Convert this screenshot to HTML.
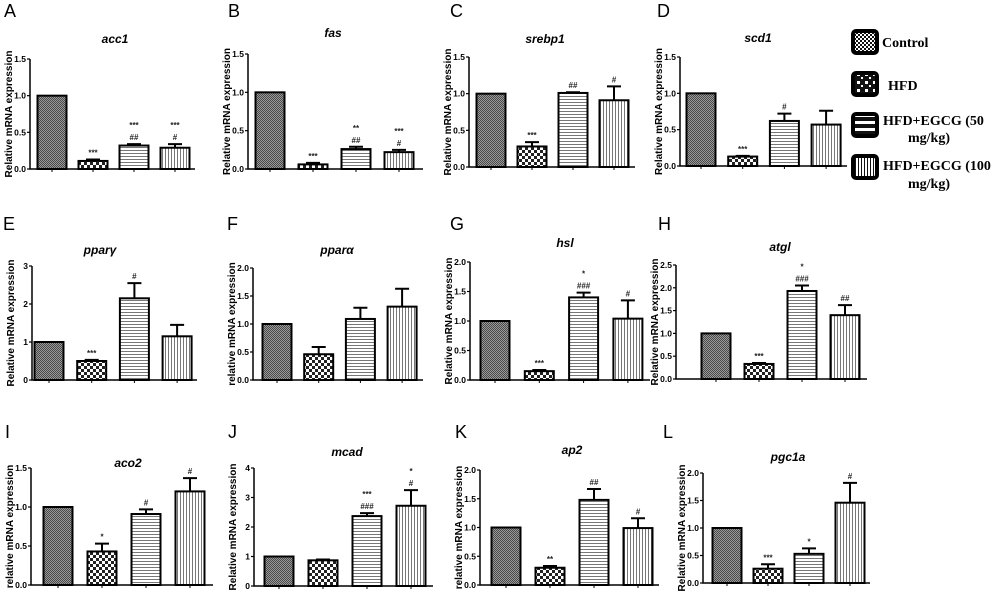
<!DOCTYPE html>
<html><head><meta charset="utf-8">
<style>
html,body{margin:0;padding:0;background:#fff;}
svg{display:block;}
text{font-family:"Liberation Sans",Arial,sans-serif;}
.leg{font-family:"Liberation Serif","Times New Roman",serif;font-weight:bold;font-size:14px;}
</style></head>
<body>
<svg id="fig" width="1000" height="595" viewBox="0 0 1000 595" xmlns="http://www.w3.org/2000/svg">
<defs>
<pattern id="pCtrl" width="2" height="2" patternUnits="userSpaceOnUse"><rect width="2" height="2" fill="#999"/><rect width="1" height="1" fill="#4a4a4a"/><rect x="1" y="1" width="1" height="1" fill="#4a4a4a"/></pattern>
<pattern id="pHfd" width="6" height="6" patternUnits="userSpaceOnUse"><rect width="6" height="6" fill="#fff"/><rect width="3" height="3" fill="#222"/><rect x="3" y="3" width="3" height="3" fill="#222"/></pattern>
<pattern id="pE50" width="3" height="3" patternUnits="userSpaceOnUse"><rect width="3" height="3" fill="#fff"/><rect width="3" height="1" fill="#777"/></pattern>
<pattern id="pE100" width="3" height="3" patternUnits="userSpaceOnUse"><rect width="3" height="3" fill="#fff"/><rect width="1" height="3" fill="#777"/></pattern>
<pattern id="lCtrl" width="4" height="4" patternUnits="userSpaceOnUse"><rect width="4" height="4" fill="#fff"/><rect width="2" height="2" fill="#111"/><rect x="2" y="2" width="2" height="2" fill="#111"/></pattern>
<pattern id="lHfd" width="8" height="8" patternUnits="userSpaceOnUse"><rect width="8" height="8" fill="#111"/><rect x="1" y="1" width="3" height="3" fill="#fff"/><rect x="5" y="5" width="2" height="2" fill="#fff"/></pattern>
<pattern id="lE50" width="6" height="7" patternUnits="userSpaceOnUse"><rect width="6" height="7" fill="#111"/><rect y="2" width="6" height="3" fill="#fff"/></pattern>
<pattern id="lE100" width="3" height="6" patternUnits="userSpaceOnUse"><rect width="3" height="6" fill="#fff"/><rect width="1" height="6" fill="#111"/></pattern>
</defs>
<g id="legend">
<g><rect x="853" y="31" width="24" height="22" rx="3" fill="url(#lCtrl)" stroke="#000" stroke-width="4"/><text class="leg" x="882" y="47">Control</text></g>
<g><rect x="853" y="73" width="24" height="22" rx="3" fill="url(#lHfd)" stroke="#000" stroke-width="4"/><text class="leg" x="888" y="90">HFD</text></g>
<g><rect x="853" y="114" width="24" height="22" rx="3" fill="url(#lE50)" stroke="#000" stroke-width="4"/><text class="leg" x="883" y="125">HFD+EGCG (50</text><text class="leg" x="908" y="142">mg/kg)</text></g>
<g><rect x="853" y="156" width="24" height="22" rx="3" fill="url(#lE100)" stroke="#000" stroke-width="4"/><text class="leg" x="883" y="170">HFD+EGCG (100</text><text class="leg" x="908" y="188">mg/kg)</text></g>
</g>
</svg>
<script>
const groups = ["Control","HFD","HFD+EGCG 50","HFD+EGCG 100"];
const accMeans = [1.0, 0.11, 0.32, 0.29];
const accErr = [0, 0.02, 0.02, 0.05];
const accMarks = [[], ["***"], ["##","***"], ["#","***"]];
const fasMeans = [1.0, 0.06, 0.26, 0.22];
const fasErr = [0, 0.02, 0.03, 0.03];
const fasMarks = [[], ["***"], ["##","**"], ["#","***"]];
const srebpMeans = [1.0, 0.28, 1.01, 0.91];
const srebpErr = [0, 0.06, 0.01, 0.19];
const srebpMarks = [[], ["***"], ["##"], ["#"]];
const scdMeans = [1.0, 0.13, 0.62, 0.57];
const scdErr = [0, 0.01, 0.10, 0.19];
const scdMarks = [[], ["***"], ["#"], []];
const ppargMeans = [1.0, 0.5, 2.15, 1.15];
const ppargErr = [0, 0.03, 0.4, 0.3];
const ppargMarks = [[], ["***"], ["#"], []];
const ppaaMeans = [1.0, 0.46, 1.09, 1.31];
const ppaaErr = [0, 0.13, 0.2, 0.32];
const ppaaMarks = [[], [], [], []];
const hslMeans = [1.0, 0.15, 1.40, 1.04];
const hslErr = [0, 0.02, 0.08, 0.31];
const hslMarks = [[], ["***"], ["###","*"], ["#"]];
const atglMeans = [1.0, 0.33, 1.93, 1.40];
const atglErr = [0, 0.02, 0.12, 0.22];
const atglMarks = [[], ["***"], ["###","*"], ["##"]];
const acoMeans = [1.0, 0.43, 0.91, 1.20];
const acoErr = [0, 0.10, 0.06, 0.17];
const acoMarks = [[], ["*"], ["#"], ["#"]];
const mcadMeans = [1.0, 0.87, 2.37, 2.72];
const mcadErr = [0, 0.03, 0.1, 0.53];
const mcadMarks = [[], [], ["###","***"], ["#","*"]];
const ap2Means = [1.0, 0.30, 1.48, 0.99];
const ap2Err = [0, 0.03, 0.19, 0.17];
const ap2Marks = [[], ["**"], ["##"], ["#"]];
const pgcMeans = [1.0, 0.26, 0.53, 1.46];
const pgcErr = [0, 0.08, 0.10, 0.36];
const pgcMarks = [[], ["***"], ["*"], ["#"]];
const ticks15 = ["0.0","0.5","1.0","1.5"];
const ticks20 = ["0.0","0.5","1.0","1.5","2.0"];
const ticks25 = ["0.0","0.5","1.0","1.5","2.0","2.5"];
const ticks3 = ["0","1","2","3"];
const ticks4 = ["0","1","2","3","4"];

const fills = ["url(#pCtrl)","url(#pHfd)","url(#pE50)","url(#pE100)"];
const NS = "http://www.w3.org/2000/svg";
const svg = document.getElementById("fig");
function mk(tag, attrs, parent){const e=document.createElementNS(NS,tag);for(const k in attrs)e.setAttribute(k,attrs[k]);parent.appendChild(e);return e;}

const panels = [
 {id:"a",L:"A",lx:4,ly:17,title:"acc1",tx:115,ty:43,ax:30,aend:195,ytop:59,y0:169,c0:52,sp:41,ticks:ticks15,m:accMeans,e:accErr,k:accMarks,yl:"Relative mRNA expression"},
 {id:"b",L:"B",lx:228,ly:17,title:"fas",tx:333,ty:37,ax:248,aend:423,ytop:54,y0:169,c0:270,sp:43,ticks:ticks15,m:fasMeans,e:fasErr,k:fasMarks,yl:"Relative mRNA expression"},
 {id:"c",L:"C",lx:450,ly:17,title:"srebp1",tx:545,ty:43,ax:469,aend:635,ytop:57,y0:167,c0:491,sp:41,ticks:ticks15,m:srebpMeans,e:srebpErr,k:srebpMarks,yl:"Relative mRNA expression"},
 {id:"d",L:"D",lx:657,ly:17,title:"scd1",tx:758,ty:42,ax:680,aend:847,ytop:57,y0:166,c0:701,sp:41.7,ticks:ticks15,m:scdMeans,e:scdErr,k:scdMarks,yl:"Relative mRNA expression"},
 {id:"e",L:"E",lx:3,ly:230,title:"ppar\u03b3",tx:100,ty:254,ax:32,aend:197,ytop:266,y0:380,c0:49,sp:42.7,ticks:ticks3,m:ppargMeans,e:ppargErr,k:ppargMarks,yl:"Relative mRNA expression"},
 {id:"f",L:"F",lx:227,ly:230,title:"ppar\u03b1",tx:337,ty:254,ax:253,aend:423,ytop:268,y0:380,c0:277,sp:41.7,ticks:ticks20,m:ppaaMeans,e:ppaaErr,k:ppaaMarks,yl:"relative mRNA expression"},
 {id:"g",L:"G",lx:450,ly:230,title:"hsl",tx:565,ty:247,ax:470,aend:650,ytop:262,y0:380,c0:495,sp:44.3,ticks:ticks20,m:hslMeans,e:hslErr,k:hslMarks,yl:"Relative mRNA expression"},
 {id:"h",L:"H",lx:658,ly:230,title:"atgl",tx:780,ty:251,ax:676,aend:867,ytop:265,y0:379,c0:716,sp:43,ticks:ticks25,m:atglMeans,e:atglErr,k:atglMarks,yl:"Relative mRNA expression"},
 {id:"i",L:"I",lx:5,ly:438,title:"aco2",tx:128,ty:467,ax:31,aend:213,ytop:468,y0:585,c0:58,sp:44,ticks:ticks15,m:acoMeans,e:acoErr,k:acoMarks,yl:"relative mRNA expression"},
 {id:"j",L:"J",lx:228,ly:438,title:"mcad",tx:347,ty:456,ax:254,aend:433,ytop:468,y0:586,c0:279,sp:44,ticks:ticks4,m:mcadMeans,e:mcadErr,k:mcadMarks,yl:"Relative mRNA expression"},
 {id:"k",L:"K",lx:455,ly:438,title:"ap2",tx:572,ty:454,ax:480,aend:659,ytop:470,y0:585,c0:506,sp:44,ticks:ticks20,m:ap2Means,e:ap2Err,k:ap2Marks,yl:"relative mRNA expression"},
 {id:"l",L:"L",lx:663,ly:438,title:"pgc1a",tx:788,ty:461,ax:703,aend:870,ytop:473,y0:583,c0:727,sp:41,ticks:ticks20,m:pgcMeans,e:pgcErr,k:pgcMarks,yl:"Relative mRNA expression"}
];

panels.forEach(p=>{
  const g = mk("g",{},svg);
  
  
  const ymax = parseFloat(p.ticks[p.ticks.length-1]);
  const yS = v => p.y0 - v/ymax*(p.y0-p.ytop);
  const xS = i => p.c0 + i*p.sp;
  const lt = mk("text",{x:p.lx,y:p.ly,"font-size":"18"},g); lt.textContent=p.L;
  
  
  const tt = mk("text",{x:p.tx,y:p.ty,"font-size":"12","font-weight":"bold","font-style":"italic","text-anchor":"middle"},g); tt.textContent=p.title;
  
  
  const ylx = p.ax-18, yly=(p.ytop+p.y0)/2;
  const yl = mk("text",{x:ylx,y:yly,"font-size":"10","font-weight":"bold","text-anchor":"middle",transform:`rotate(-90 ${ylx} ${yly})`},g); yl.textContent=p.yl;
  
  
  p.m.forEach((v,i)=>{
    const cx=xS(i), bw=29;
    const r = mk("rect",{x:cx-bw/2,y:yS(v),width:bw,height:p.y0-yS(v),fill:fills[i],stroke:"#000","stroke-width":"2"},g);
    
    
    const et = v + p.e[i];
    if(p.e[i]>0){
      const eb = mk("path",{d:`M${cx} ${yS(v)}V${yS(et)}M${cx-7} ${yS(et)}H${cx+7}`,stroke:"#000","stroke-width":"2",fill:"none"},g);
      
      
    }
    p.k[i].forEach((s,j)=>{
      const a = mk("text",{x:cx,y:yS(et)-4-j*12,"font-size":"8","font-weight":"bold","text-anchor":"middle",fill:"#222"},g); a.textContent=s;
      
      
    });
    const tk = mk("line",{x1:cx,x2:cx,y1:p.y0,y2:p.y0+3,stroke:"#000","stroke-width":"1"},g);
    
    
  });
  const axl = mk("path",{d:`M${p.ax} ${p.ytop}V${p.y0}H${p.aend}`,stroke:"#000","stroke-width":"1.5",fill:"none"},g);
  
  
  p.ticks.forEach(t=>{
    const y=yS(parseFloat(t));
    mk("line",{x1:p.ax-3,x2:p.ax,y1:y,y2:y,stroke:"#000","stroke-width":"1.2"},g);
    const tl = mk("text",{x:p.ax-4,y:y+3,"font-size":"8.5","font-weight":"bold","text-anchor":"end"},g); tl.textContent=t;
    
    
  });
});
</script>
</body></html>
